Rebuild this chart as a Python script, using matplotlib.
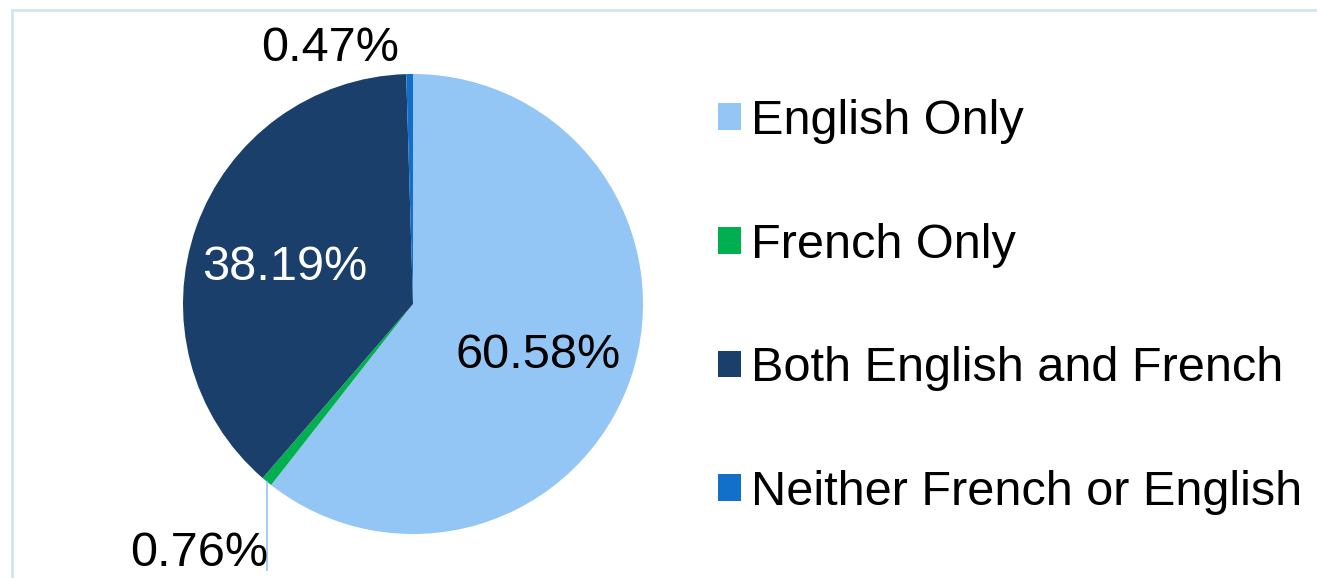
import numpy as np
import matplotlib.pyplot as plt
from matplotlib.patches import Rectangle

plt.rcParams['font.family'] = ['Liberation Sans', 'DejaVu Sans']

# Data
labels = ["English Only", "French Only", "Both English and French", "Neither French or English"]
shares = [60.58, 0.76, 38.19, 0.47]
colors = ["#93C5F5", "#00B050", "#1A3F6B", "#1270CA"]
pct_colors = ["black", "black", "white", "black"]

W, H = 1317, 578
fig = plt.figure(figsize=(W / 100, H / 100), dpi=100)

# light frame, partly cut off at right/bottom
fig.patches.append(Rectangle((12 / W, -0.05), 1.1, 1 - 10 / H + 0.05,
                             transform=fig.transFigure, fill=False,
                             edgecolor="#D5E3F5", linewidth=2))

# pie axes: center (413, 304), radius 230 px
cx, cy, r = 413, 304, 230
ax = fig.add_axes([(cx - r) / W, (H - cy - r) / H, 2 * r / W, 2 * r / H])
wedges, _ = ax.pie(shares, colors=colors, startangle=90, counterclock=False,
                   radius=1, wedgeprops=dict(linewidth=0))
ax.set_xlim(-1, 1)
ax.set_ylim(-1, 1)
ax.set_aspect("equal")
ax.axis("off")

fs = 35
# label positions (in pie radius units)
pos = [(0.545, -0.225), (-0.93, -1.083), (-0.557, 0.157), (-0.36, 1.113)]
for s, (x, y), c in zip(shares, pos, pct_colors):
    ax.text(x, y, f"{s:.2f}%", ha="center", va="center", fontsize=fs,
            color=c, clip_on=False)

# leader line for the small French slice
mid = np.deg2rad(90 - (shares[0] + shares[1] / 2) * 3.6)
lx, ly = np.cos(mid), np.sin(mid)
ax.plot([lx, lx], [ly, -1.155], color="#93C5F5", linewidth=1.2, clip_on=False)

fig.legend(wedges, labels, loc="center left",
           bbox_to_anchor=(718 / W, 1 - 307 / H), frameon=False,
           fontsize=fs, borderpad=0, borderaxespad=0,
           handlelength=0.47, handleheight=0.47, handletextpad=0.2,
           labelspacing=1.62)

fig.savefig("out.png", dpi=100, facecolor="white")
